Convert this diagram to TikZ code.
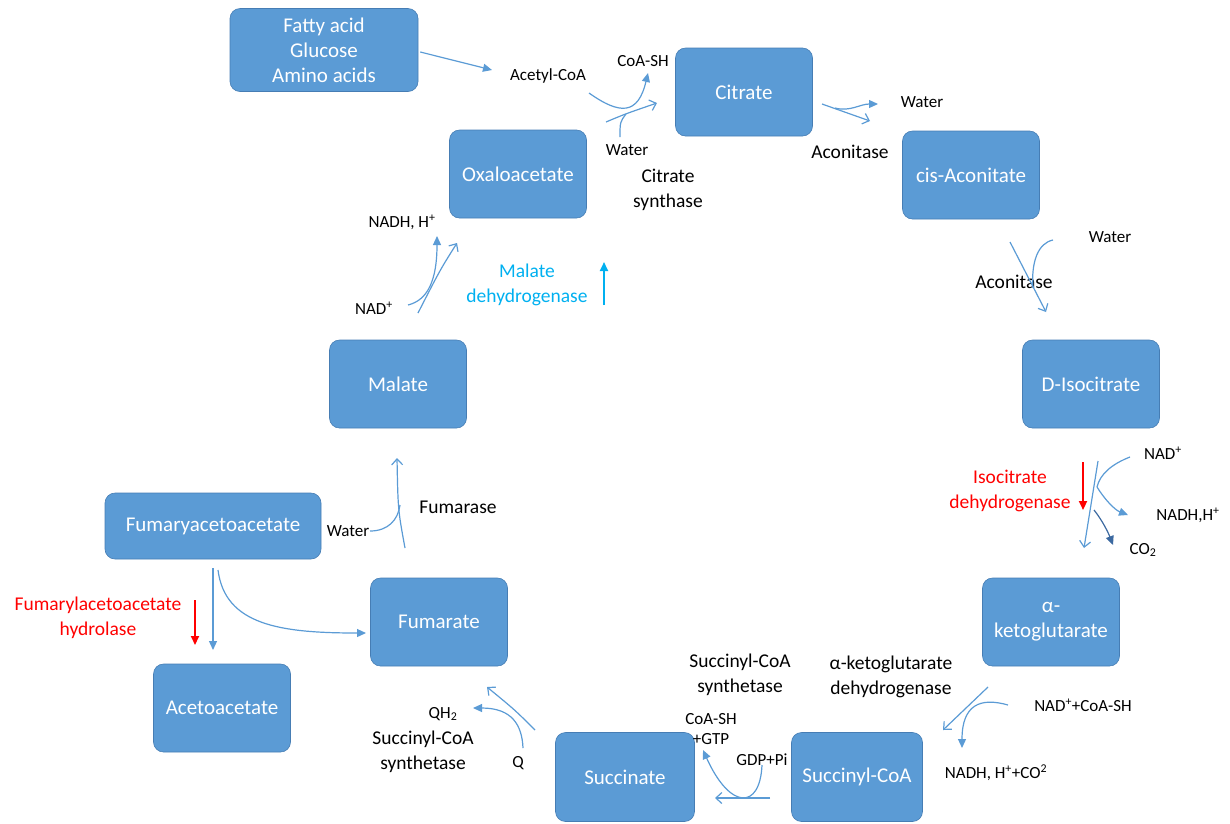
\documentclass[tikz,border=0pt]{standalone}
\usepackage{fontspec}
\setmainfont{Carlito}
\definecolor{boxblue}{RGB}{91,155,213}
\definecolor{boxedge}{RGB}{70,125,180}
\definecolor{flowblue}{RGB}{91,155,213}
\definecolor{darkflow}{RGB}{60,105,160}
\definecolor{enzred}{RGB}{255,0,0}
\definecolor{enzcyan}{RGB}{0,176,240}
\usetikzlibrary{arrows.meta, positioning}

\begin{document}
\begin{tikzpicture}[x=1pt, y=-1pt,
    stage/.style={rectangle, rounded corners=10pt, fill=boxblue, draw=boxedge, line width=0.6pt,
        minimum width=137pt, minimum height=88pt, text=white, align=center,
        font=\fontsize{21}{25}\selectfont},
    enzyme/.style={align=center, inner sep=1pt, font=\fontsize{19.5}{25}\selectfont},
    small/.style={align=center, inner sep=1pt, font=\fontsize{17}{20}\selectfont},
    flow/.style={draw=flowblue, line width=1.2pt},
    opentip/.style={-{Straight Barb[length=6pt, width=11pt]}},
    filltip/.style={-{Triangle[length=9pt, width=8pt]}},
    marker/.style={line width=2pt, -{Triangle[length=9pt, width=8pt]}}
]
    \useasboundingbox (0,0) rectangle (1230,823);

    \node[stage, minimum width=188pt, minimum height=83pt] (src) at (324,50) {Fatty acid\\Glucose\\Amino acids};
    \node[stage] (cit) at (744,92) {Citrate};
    \node[stage] (oxa) at (518,174) {Oxaloacetate};
    \node[stage] (cis) at (971,175) {cis-Aconitate};
    \node[stage] (iso) at (1091,384) {D-Isocitrate};
    \node[stage] (akg) at (1051,622) {α-\\ketoglutarate};
    \node[stage, minimum width=131pt, minimum height=89pt] (scoa) at (857,777) {Succinyl-CoA};
    \node[stage, minimum width=139pt, minimum height=89pt] (succ) at (625,777) {Succinate};
    \node[stage] (fum) at (439,622) {Fumarate};
    \node[stage] (mal) at (398,384) {Malate};
    \node[stage, minimum width=216pt, minimum height=66pt] (faa) at (213,526) {Fumaryacetoacetate};
    \node[stage] (aca) at (222,708) {Acetoacetate};

    \node[small] (acoa) at (548,76) {Acetyl-CoA};
    \node[small] (coash) at (643,61) {CoA-SH};
    \node[small] (wa) at (627,150) {Water};
    \node[enzyme] (cs) at (668,190) {Citrate\\synthase};
    \node[small] (wb) at (922,102) {Water};
    \node[enzyme] (acn1) at (850,152) {Aconitase};
    \node[small] (wc) at (1110,237) {Water};
    \node[enzyme] (acn2) at (1014,282) {Aconitase};
    \node[small] (nada) at (1163,453) {NAD\textsuperscript{+}};
    \node[small] (nadha) at (1188,515) {NADH,H\textsuperscript{+}};
    \node[small] (co2) at (1143,550) {CO\textsubscript{2}};
    \node[enzyme, text=enzred] (idh) at (1010,491) {Isocitrate\\dehydrogenase};
    \node[small] (nadb) at (1083,705) {NAD\textsuperscript{+}+CoA-SH};
    \node[small] (nadhb) at (996,773) {NADH, H\textsuperscript{+}+CO\textsuperscript{2}};
    \node[enzyme] (akgdh) at (891,677) {α-ketoglutarate\\dehydrogenase};
    \node[enzyme] (scsa) at (740,675) {Succinyl-CoA\\synthetase};
    \node[small] (gtp) at (711,729) {CoA-SH\\+GTP};
    \node[small] (gdp) at (762,760) {GDP+Pi};
    \node[small] (qh2) at (443,714) {QH\textsubscript{2}};
    \node[small] (q) at (518,763) {Q};
    \node[enzyme] (scsb) at (423,752) {Succinyl-CoA\\synthetase};
    \node[small] (wd) at (348,531) {Water};
    \node[enzyme] (fumase) at (458,507) {Fumarase};
    \node[small] (nadc) at (374,308) {NAD\textsuperscript{+}};
    \node[small] (nadhc) at (402,222) {NADH, H\textsuperscript{+}};
    \node[enzyme, text=enzcyan] (mdh) at (527,285) {Malate\\dehydrogenase};
    \node[enzyme, text=enzred] (fah) at (98,618) {Fumarylacetoacetate\\hydrolase};

    \coordinate (acoain) at (492,70);
    \coordinate (csa) at (589,93);
    \coordinate (csb) at (648,73);
    \coordinate (csc) at (606,122);
    \coordinate (csd) at (657,103);
    \coordinate (cse) at (620,137);
    \coordinate (acna) at (822,104);
    \coordinate (acnb) at (870,121);
    \coordinate (acnc) at (835,108);
    \coordinate (acnd) at (878,104);
    \coordinate (acne) at (1010,242);
    \coordinate (acnf) at (1046,312);
    \coordinate (acng) at (1053,240);
    \coordinate (acnh) at (1033,288);
    \coordinate (idha) at (1098,461);
    \coordinate (idhb) at (1084,548);
    \coordinate (idhc) at (1130,457);
    \coordinate (idhd) at (1097,487);
    \coordinate (idhe) at (1128,515);
    \coordinate (idhf) at (1094,510);
    \coordinate (idhg) at (1113,545);
    \coordinate (akga) at (988,687);
    \coordinate (akgb) at (943,730);
    \coordinate (akgc) at (1008,705);
    \coordinate (akgd) at (962,748);
    \coordinate (scsc) at (770,798);
    \coordinate (scsd) at (715,798);
    \coordinate (scse) at (762,765);
    \coordinate (scsf) at (703,750);
    \coordinate (sdha) at (535,730);
    \coordinate (sdhb) at (487,687);
    \coordinate (sdhc) at (523,748);
    \coordinate (sdhd) at (473,708);
    \coordinate (fuma) at (405,548);
    \coordinate (fumb) at (397,458);
    \coordinate (fumc) at (370,531);
    \coordinate (fumd) at (400,505);
    \coordinate (mdha) at (418,313);
    \coordinate (mdhb) at (457,243);
    \coordinate (mdhc) at (408,305);
    \coordinate (mdhd) at (437,236);
    \coordinate (faaa) at (213,568);
    \coordinate (faab) at (213,650);
    \coordinate (faac) at (218,570);
    \coordinate (faad) at (366,633);

    \draw[flow, filltip] (src.east) ++(2,2) -- (acoain);
    \draw[flow, filltip] (csa) .. controls (620,115) and (638,115) .. (csb);
    \draw[flow, opentip] (csc) .. controls (625,114) .. (csd);
    \draw[flow] (cse) .. controls (620,122) .. (626,114);
    \draw[flow, opentip] (acna) -- (acnb);
    \draw[flow, filltip] (acnc) .. controls (850,112) and (860,104) .. (acnd);
    \draw[flow, opentip] (acne) -- (acnf);
    \draw[flow] (acng) .. controls (1038,243) and (1031,262) .. (acnh);
    \draw[flow, opentip] (idha) -- (idhb);
    \draw[flow] (idhc) .. controls (1112,464) and (1100,474) .. (idhd);
    \draw[flow, filltip] (idhd) .. controls (1105,500) and (1115,510) .. (idhe);
    \draw[flow, draw=darkflow, filltip] (idhf) .. controls (1102,520) and (1108,532) .. (idhg);
    \draw[marker, enzred] (1083,462) -- (1083,510);
    \draw[flow, opentip] (akga) -- (akgb);
    \draw[flow, filltip] (akgc) .. controls (980,697) and (962,705) .. (akgd);
    \draw[flow, opentip] (scsc) -- (scsd);
    \draw[flow, filltip] (scse) .. controls (760,810) and (730,810) .. (scsf);
    \draw[flow, opentip] (sdha) .. controls (515,710) .. (sdhb);
    \draw[flow, filltip] (sdhc) .. controls (522,725) and (512,708) .. (sdhd);
    \draw[flow, opentip] (fuma) .. controls (398,510) .. (fumb);
    \draw[flow] (fumc) .. controls (388,531) and (398,520) .. (fumd);
    \draw[flow, opentip] (mdha) .. controls (440,270) .. (mdhb);
    \draw[flow, filltip] (mdhc) .. controls (428,300) and (437,280) .. (mdhd);
    \draw[marker, enzcyan] (604,305) -- (604,262);
    \draw[flow, filltip] (faaa) -- (faab);
    \draw[flow, filltip] (faac) .. controls (225,625) and (280,633) .. (faad);
    \draw[marker, enzred] (195,600) -- (195,645);
\end{tikzpicture}
\end{document}
